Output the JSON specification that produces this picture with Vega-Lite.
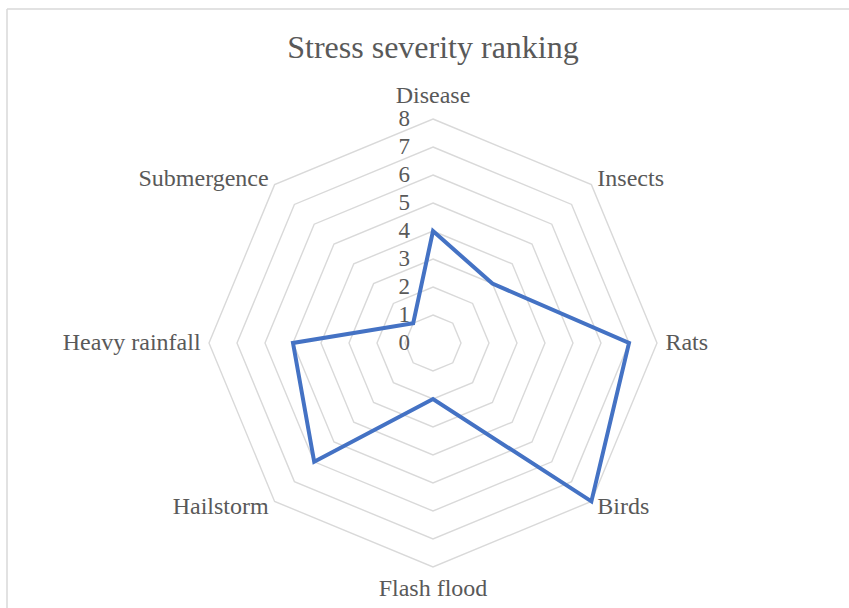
{
  "$schema": "https://vega.github.io/schema/vega-lite/v6.json",
  "width": 842,
  "height": 599,
  "autosize": "none",
  "padding": {"left": 7, "top": 9, "right": 0, "bottom": 0},
  "background": "white",
  "config": {
    "view": {"stroke": "#D9D9D9", "strokeWidth": 1.5, "strokeDash": [842, 1441, 599, 0]},
    "text": {"font": "Liberation Serif", "color": "#595959", "fontSize": 24}
  },
  "title": {
    "text": "Stress severity ranking",
    "frame": "group",
    "anchor": "middle",
    "orient": "top",
    "offset": -81,
    "baseline": "alphabetic",
    "font": "Liberation Serif",
    "fontSize": 32,
    "fontWeight": "normal",
    "color": "#595959",
    "dx": 5
  },
  "datasets": {
    "stress": [
      {"category": "Disease", "i": 0, "value": 4},
      {"category": "Insects", "i": 1, "value": 3},
      {"category": "Rats", "i": 2, "value": 7},
      {"category": "Birds", "i": 3, "value": 8},
      {"category": "Flash flood", "i": 4, "value": 2},
      {"category": "Hailstorm", "i": 5, "value": 6},
      {"category": "Heavy rainfall", "i": 6, "value": 5},
      {"category": "Submergence", "i": 7, "value": 1}
    ],
    "ticks": [
      {"level": 0}, {"level": 1}, {"level": 2}, {"level": 3}, {"level": 4},
      {"level": 5}, {"level": 6}, {"level": 7}, {"level": 8}
    ],
    "grid": [
      {"level": 1, "i": 0}, {"level": 1, "i": 1}, {"level": 1, "i": 2}, {"level": 1, "i": 3}, {"level": 1, "i": 4}, {"level": 1, "i": 5}, {"level": 1, "i": 6}, {"level": 1, "i": 7},
      {"level": 2, "i": 0}, {"level": 2, "i": 1}, {"level": 2, "i": 2}, {"level": 2, "i": 3}, {"level": 2, "i": 4}, {"level": 2, "i": 5}, {"level": 2, "i": 6}, {"level": 2, "i": 7},
      {"level": 3, "i": 0}, {"level": 3, "i": 1}, {"level": 3, "i": 2}, {"level": 3, "i": 3}, {"level": 3, "i": 4}, {"level": 3, "i": 5}, {"level": 3, "i": 6}, {"level": 3, "i": 7},
      {"level": 4, "i": 0}, {"level": 4, "i": 1}, {"level": 4, "i": 2}, {"level": 4, "i": 3}, {"level": 4, "i": 4}, {"level": 4, "i": 5}, {"level": 4, "i": 6}, {"level": 4, "i": 7},
      {"level": 5, "i": 0}, {"level": 5, "i": 1}, {"level": 5, "i": 2}, {"level": 5, "i": 3}, {"level": 5, "i": 4}, {"level": 5, "i": 5}, {"level": 5, "i": 6}, {"level": 5, "i": 7},
      {"level": 6, "i": 0}, {"level": 6, "i": 1}, {"level": 6, "i": 2}, {"level": 6, "i": 3}, {"level": 6, "i": 4}, {"level": 6, "i": 5}, {"level": 6, "i": 6}, {"level": 6, "i": 7},
      {"level": 7, "i": 0}, {"level": 7, "i": 1}, {"level": 7, "i": 2}, {"level": 7, "i": 3}, {"level": 7, "i": 4}, {"level": 7, "i": 5}, {"level": 7, "i": 6}, {"level": 7, "i": 7},
      {"level": 8, "i": 0}, {"level": 8, "i": 1}, {"level": 8, "i": 2}, {"level": 8, "i": 3}, {"level": 8, "i": 4}, {"level": 8, "i": 5}, {"level": 8, "i": 6}, {"level": 8, "i": 7}
    ]
  },
  "layer": [
    {
      "data": {"name": "grid"},
      "transform": [
        {"calculate": "datum.level * sin(datum.i * PI / 4)", "as": "px"},
        {"calculate": "datum.level * cos(datum.i * PI / 4)", "as": "py"}
      ],
      "mark": {"type": "line", "interpolate": "linear-closed", "color": "#D9D9D9", "strokeWidth": 1.4},
      "encoding": {
        "x": {"field": "px", "type": "quantitative", "scale": {"domain": [-15.214, 14.857], "nice": false, "zero": false}, "axis": null},
        "y": {"field": "py", "type": "quantitative", "scale": {"domain": [-9.464, 11.929], "nice": false, "zero": false}, "axis": null},
        "detail": {"field": "level", "type": "nominal"},
        "order": {"field": "i", "type": "quantitative"}
      }
    },
    {
      "data": {"name": "stress"},
      "transform": [
        {"calculate": "datum.value * sin(datum.i * PI / 4)", "as": "px"},
        {"calculate": "datum.value * cos(datum.i * PI / 4)", "as": "py"}
      ],
      "mark": {"type": "line", "interpolate": "linear-closed", "color": "#4472C4", "strokeWidth": 4},
      "encoding": {
        "x": {"field": "px", "type": "quantitative", "scale": {"domain": [-15.214, 14.857], "nice": false, "zero": false}, "axis": null},
        "y": {"field": "py", "type": "quantitative", "scale": {"domain": [-9.464, 11.929], "nice": false, "zero": false}, "axis": null},
        "order": {"field": "i", "type": "quantitative"}
      }
    },
    {
      "data": {"name": "ticks"},
      "mark": {"type": "text", "align": "right", "baseline": "middle", "dx": -23, "fontSize": 23},
      "encoding": {
        "x": {"datum": 0, "type": "quantitative", "scale": {"domain": [-15.214, 14.857], "nice": false, "zero": false}, "axis": null},
        "y": {"field": "level", "type": "quantitative", "scale": {"domain": [-9.464, 11.929], "nice": false, "zero": false}, "axis": null},
        "text": {"field": "level", "type": "quantitative"}
      }
    },
    {
      "data": {"name": "stress"},
      "transform": [
        {"filter": "datum.i >= 1 && datum.i <= 3"},
        {"calculate": "8.3 * sin(datum.i * PI / 4)", "as": "px"},
        {"calculate": "8.3 * cos(datum.i * PI / 4)", "as": "py"}
      ],
      "mark": {"type": "text", "align": "left", "baseline": "middle"},
      "encoding": {
        "x": {"field": "px", "type": "quantitative", "scale": {"domain": [-15.214, 14.857], "nice": false, "zero": false}, "axis": null},
        "y": {"field": "py", "type": "quantitative", "scale": {"domain": [-9.464, 11.929], "nice": false, "zero": false}, "axis": null},
        "text": {"field": "category", "type": "nominal"}
      }
    },
    {
      "data": {"name": "stress"},
      "transform": [
        {"filter": "datum.i >= 5"},
        {"calculate": "8.3 * sin(datum.i * PI / 4)", "as": "px"},
        {"calculate": "8.3 * cos(datum.i * PI / 4)", "as": "py"}
      ],
      "mark": {"type": "text", "align": "right", "baseline": "middle"},
      "encoding": {
        "x": {"field": "px", "type": "quantitative", "scale": {"domain": [-15.214, 14.857], "nice": false, "zero": false}, "axis": null},
        "y": {"field": "py", "type": "quantitative", "scale": {"domain": [-9.464, 11.929], "nice": false, "zero": false}, "axis": null},
        "text": {"field": "category", "type": "nominal"}
      }
    },
    {
      "data": {"name": "stress"},
      "transform": [
        {"filter": "datum.i == 0"},
        {"calculate": "8.3 * sin(datum.i * PI / 4)", "as": "px"},
        {"calculate": "8.3 * cos(datum.i * PI / 4)", "as": "py"}
      ],
      "mark": {"type": "text", "align": "center", "baseline": "bottom", "dy": -3},
      "encoding": {
        "x": {"field": "px", "type": "quantitative", "scale": {"domain": [-15.214, 14.857], "nice": false, "zero": false}, "axis": null},
        "y": {"field": "py", "type": "quantitative", "scale": {"domain": [-9.464, 11.929], "nice": false, "zero": false}, "axis": null},
        "text": {"field": "category", "type": "nominal"}
      }
    },
    {
      "data": {"name": "stress"},
      "transform": [
        {"filter": "datum.i == 4"},
        {"calculate": "8.3 * sin(datum.i * PI / 4)", "as": "px"},
        {"calculate": "8.3 * cos(datum.i * PI / 4)", "as": "py"}
      ],
      "mark": {"type": "text", "align": "center", "baseline": "top", "dy": 2},
      "encoding": {
        "x": {"field": "px", "type": "quantitative", "scale": {"domain": [-15.214, 14.857], "nice": false, "zero": false}, "axis": null},
        "y": {"field": "py", "type": "quantitative", "scale": {"domain": [-9.464, 11.929], "nice": false, "zero": false}, "axis": null},
        "text": {"field": "category", "type": "nominal"}
      }
    }
  ]
}
